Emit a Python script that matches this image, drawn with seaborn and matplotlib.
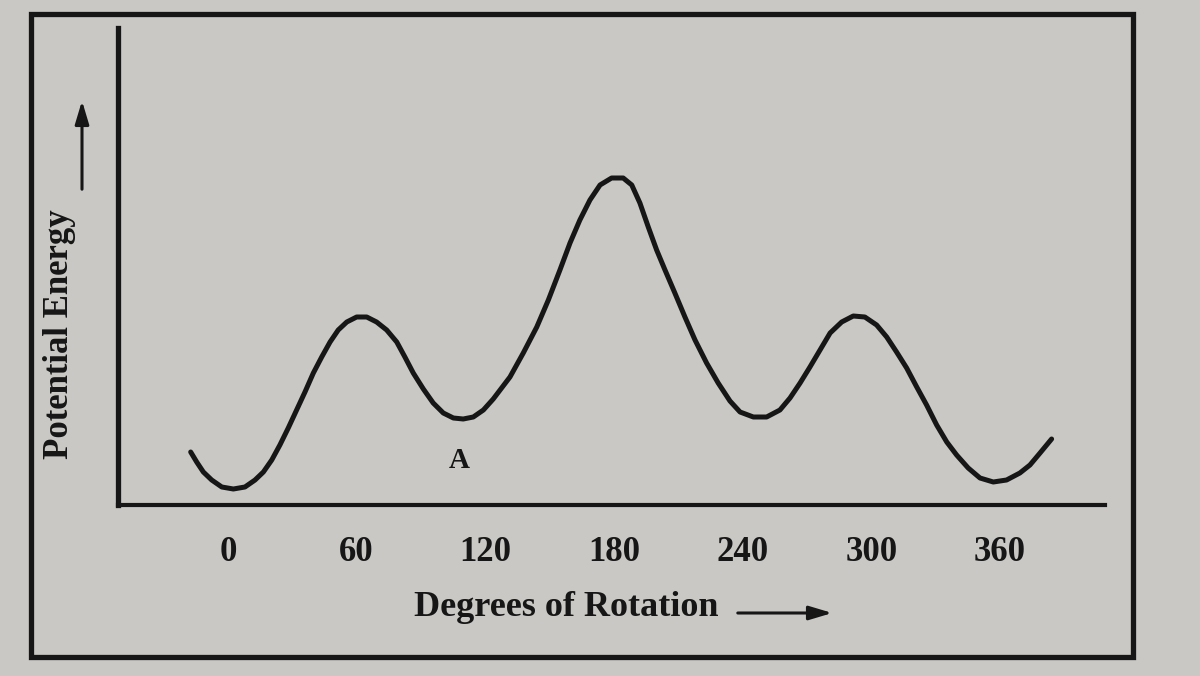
import matplotlib
matplotlib.use("Agg")
import matplotlib.pyplot as plt
import seaborn as sns
import pandas as pd
from matplotlib.patches import Rectangle, FancyArrowPatch

# Data (degrees of rotation vs. relative potential energy)
rotation_deg = [-17.4, -14.6, -11.5, -7.6, -2.9, 2.5, 7.9, 12.6, 16.5, 20.4,
                24.2, 28.1, 32.0, 35.9, 39.8, 43.7, 47.6, 51.4, 55.4, 60.0,
                64.7, 69.3, 74.0, 78.7, 82.5, 86.4, 91.1, 95.7, 100.4, 105.1,
                109.7, 114.4, 119.1, 123.7, 131.5, 137.7, 144.0, 149.4, 154.8,
                159.5, 164.1, 168.8, 173.5, 178.9, 184.3, 188.3, 192.1, 196.0,
                199.9, 203.8, 208.4, 213.1, 217.8, 223.2, 228.6, 234.1, 238.8,
                245.0, 251.2, 257.4, 262.1, 266.8, 271.4, 276.1, 280.8, 286.2,
                291.6, 297.0, 302.5, 307.2, 311.8, 316.5, 321.2, 325.8, 330.5,
                335.2, 339.8, 345.2, 350.7, 356.9, 363.1, 369.3, 374.0, 378.7,
                384.1]
energy = [53, 43, 33, 25, 18, 16, 18, 25, 33, 45,
          60, 77, 95, 113, 132, 148, 163, 175, 183, 188,
          188, 183, 175, 163, 148, 132, 116, 102, 92, 87,
          86, 88, 95, 106, 128, 152, 178, 205, 235,
          262, 285, 305, 320, 327, 327, 320, 302, 278,
          255, 235, 212, 188, 165, 142, 122, 104, 93,
          88, 88, 95, 107, 122, 138, 155, 172, 183,
          189, 188, 180, 168, 153, 137, 118, 100, 80,
          63, 50, 37, 27, 23, 25, 32, 40, 52,
          66]
tick_values = [0, 60, 120, 180, 240, 300, 360]
tick_labels = ["0", "60", "120", "180", "240", "300", "360"]
point_label = "A"
point_label_pos = (108, 45)
x_title = "Degrees of Rotation"
y_title = "Potential Energy"

df = pd.DataFrame({"deg": rotation_deg, "energy": energy})

BG = "#c9c8c4"
INK = "#161616"

sns.set_theme(style="white")
plt.rcParams["font.family"] = ["Liberation Serif", "DejaVu Serif"]

fig = plt.figure(figsize=(12, 6.76), dpi=100, facecolor=BG)
ax = fig.add_axes([118 / 1200, 1 - 505 / 676, (1105 - 118) / 1200, (505 - 28) / 676])
ax.set_facecolor(BG)

sns.lineplot(data=df, x="deg", y="energy", ax=ax, color=INK, linewidth=3.6,
             sort=False, solid_capstyle="round", solid_joinstyle="round")

ax.set_xlim(-51.3, 409)
ax.set_ylim(0, 477)
ax.set_xticks(tick_values)
ax.set_xticklabels(tick_labels, fontsize=25, fontweight="bold", color=INK)
ax.set_yticks([])
ax.tick_params(axis="x", length=0, pad=22)
ax.set_xlabel("")
ax.set_ylabel("")

for side in ["top", "right"]:
    ax.spines[side].set_visible(False)
for side in ["left", "bottom"]:
    ax.spines[side].set_color(INK)
ax.spines["left"].set_linewidth(3.8)
ax.spines["bottom"].set_linewidth(3.0)

ax.text(point_label_pos[0], point_label_pos[1], point_label, fontsize=21,
        fontweight="bold", color=INK, ha="center", va="center")

# axis titles with arrows
fig.text(566 / 1200, 1 - 608 / 676, x_title, fontsize=26,
         fontweight="bold", color=INK, ha="center", va="center")
fig.add_artist(FancyArrowPatch(
    (735 / 1200, 1 - 613 / 676), (835 / 1200, 1 - 613 / 676),
    transform=fig.transFigure, arrowstyle="-|>,head_length=1.0,head_width=0.3",
    mutation_scale=14, color=INK, linewidth=2.2))

fig.text(60 / 1200, 1 - 334 / 676, y_title, fontsize=25,
         fontweight="bold", color=INK, ha="center", va="center", rotation=90)
fig.add_artist(FancyArrowPatch(
    (82 / 1200, 1 - 192 / 676), (82 / 1200, 1 - 98 / 676),
    transform=fig.transFigure, arrowstyle="-|>,head_length=1.0,head_width=0.3",
    mutation_scale=14, color=INK, linewidth=2.2))

# outer frame
fig.add_artist(Rectangle((31 / 1200, 1 - 657 / 676), (1133 - 31) / 1200, (657 - 14) / 676,
                         transform=fig.transFigure, fill=False, edgecolor=INK,
                         linewidth=3.8))

fig.savefig("out.png", dpi=100, facecolor=BG)
